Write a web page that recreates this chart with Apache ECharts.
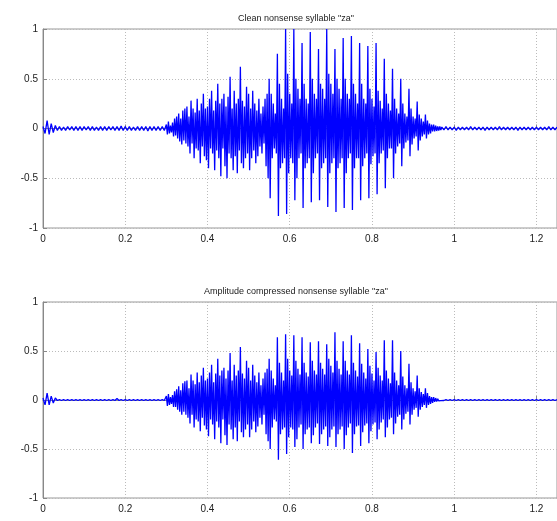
<!DOCTYPE html>
<html>
<head>
<meta charset="utf-8">
<script src="https://cdn.jsdelivr.net/npm/echarts@6/dist/echarts.min.js"></script>
<style>
html,body{margin:0;padding:0;background:#fff;}
#chart{width:557px;height:521px;}
</style>
</head>
<body>
<div id="chart"></div>
<script>
// ---- data ----
var titleTop = 'Clean nonsense syllable "za"';
var titleBottom = 'Amplitude compressed nonsense syllable "za"';
var xTicks = [0, 0.2, 0.4, 0.6, 0.8, 1, 1.2];
var yTicks = [-1, -0.5, 0, 0.5, 1];

// sampling grid of the read-off samples (seconds)
var leadStart = 0, leadStep = 0.005;      // quiet lead-in 0 .. 0.295
var activeStart = 0.30, activeStep = 0.0025; // syllable 0.30 .. 0.9675
var tailStart = 0.97, tailStep = 0.005;   // quiet tail 0.97 .. 1.25

// ---- clean signal ----
var cleanLead = [
  0.02,-0.05,0.08,-0.06,0.05,-0.04,0.03,
  -0.02,0.02,-0.02,0.015,-0.02,0.02,-0.015,0.02,-0.02,0.02,
  -0.02,0.02,-0.02,0.02,-0.015,0.02,-0.02,0.02,-0.02,0.015,
  -0.02,0.02,-0.02,0.02,-0.02,0.02,-0.015,0.02,-0.02,0.02,
  -0.02,0.025,-0.02,0.02,-0.02,0.02,-0.02,0.015,-0.02,0.02,
  -0.02,0.02,-0.02,0.02,-0.025,0.02,-0.02,0.02,-0.02,0.02,
  -0.02,0.02,-0.02
];
var cleanActive = [
  // fricative "z" 0.30 .. 0.5475
  0.04,-0.06,0.07,-0.05,0.03,-0.04,0.06,-0.08,0.1,-0.07,
  0.12,-0.1,0.15,-0.13,0.1,-0.16,0.18,-0.12,0.2,-0.15,
  0.22,-0.18,0.12,-0.25,0.28,-0.15,0.2,-0.3,0.16,-0.2,
  0.3,-0.22,0.18,-0.35,0.25,-0.18,0.35,-0.28,0.2,-0.32,
  0.22,-0.4,0.3,-0.2,0.38,-0.25,0.18,-0.42,0.28,-0.22,
  0.45,-0.3,0.25,-0.48,0.3,-0.2,0.35,-0.38,0.22,-0.5,
  0.32,-0.25,0.52,-0.3,0.2,-0.42,0.38,-0.28,0.25,-0.45,
  0.3,-0.22,0.62,-0.35,0.28,-0.4,0.22,-0.3,0.42,-0.25,
  0.35,-0.42,0.2,-0.3,0.38,-0.22,0.25,-0.35,0.18,-0.28,
  0.3,-0.18,0.15,-0.25,0.22,-0.15,0.3,-0.38,0.35,-0.5,
  // vowel "a", one pitch period per row, 0.55 .. 0.9475
  0.5,-0.7,0.35,-0.3,0.25,-0.2,0.15,-0.25,
  0.75,-0.88,0.45,-0.4,0.3,-0.35,0.2,-0.3,
  1.0,-0.86,0.55,-0.45,0.35,-0.3,0.25,-0.35,
  1.0,-0.72,0.5,-0.5,0.4,-0.3,0.3,-0.25,
  0.86,-0.8,0.45,-0.4,0.3,-0.35,0.25,-0.3,
  0.97,-0.74,0.5,-0.45,0.35,-0.3,0.3,-0.25,
  0.8,-0.72,0.45,-0.4,0.4,-0.35,0.3,-0.3,
  1.0,-0.79,0.55,-0.45,0.45,-0.35,0.35,-0.3,
  0.8,-0.84,0.5,-0.4,0.4,-0.35,0.3,-0.3,
  0.91,-0.8,0.5,-0.45,0.35,-0.3,0.3,-0.25,
  0.93,-0.82,0.45,-0.4,0.35,-0.3,0.25,-0.3,
  0.86,-0.72,0.45,-0.38,0.3,-0.3,0.25,-0.25,
  0.83,-0.7,0.4,-0.36,0.3,-0.28,0.22,-0.25,
  0.86,-0.66,0.38,-0.35,0.28,-0.25,0.2,-0.22,
  0.7,-0.6,0.35,-0.3,0.25,-0.2,0.18,-0.2,
  0.6,-0.5,0.3,-0.25,0.2,-0.18,0.15,-0.15,
  0.5,-0.38,0.25,-0.2,0.15,-0.14,0.12,-0.12,
  0.4,-0.28,0.2,-0.16,0.12,-0.1,0.1,-0.08,
  0.27,-0.22,0.14,-0.12,0.1,-0.08,0.07,-0.06,
  0.14,-0.1,0.08,-0.06,0.05,-0.05,0.04,-0.03,
  // fade 0.95 .. 0.9675
  0.04,-0.03,0.03,-0.025,0.02,-0.02,0.02,-0.015
];
var cleanTail = [
  0.015,-0.015,0.02,-0.015,0.015,-0.015,0.015,-0.02,0.015,-0.015,
  0.015,-0.015,0.015,-0.015,0.02,-0.015,0.015,-0.015,0.015,-0.015,
  0.015,-0.02,0.015,-0.015,0.015,-0.015,0.015,-0.015,0.02,-0.015,
  0.015,-0.015,0.015,-0.015,0.015,-0.015,0.015,-0.02,0.015,-0.015,
  0.015,-0.015,0.015,-0.015,0.015,-0.015,0.015,-0.015,0.015,-0.015,
  0.015,-0.015,0.02,-0.015,0.015,-0.015,0.015
];

// ---- amplitude-compressed signal ----
var compLead = [
  0.02,-0.05,0.07,-0.05,0.04,-0.03,0.02,
  -0.005,0.005,-0.005,0.005,-0.005,0.005,-0.005,0.005,-0.005,0.005,
  -0.005,0.005,-0.005,0.005,-0.005,0.005,-0.005,0.005,-0.005,0.005,
  -0.005,0.005,-0.005,0.005,-0.005,0.005,-0.005,0.005,-0.005,0.015,
  -0.005,0.005,-0.005,0.005,-0.005,0.005,-0.005,0.005,-0.005,0.005,
  -0.005,0.005,-0.005,0.005,-0.005,0.005,-0.005,0.005,-0.005,0.005,
  -0.005,0.005,-0.005
];
var compActive = [
  0.04,-0.06,0.06,-0.05,0.03,-0.04,0.05,-0.07,0.09,-0.07,
  0.11,-0.1,0.14,-0.12,0.1,-0.15,0.17,-0.12,0.19,-0.15,
  0.2,-0.18,0.12,-0.24,0.26,-0.15,0.2,-0.28,0.16,-0.2,
  0.28,-0.22,0.18,-0.32,0.25,-0.18,0.33,-0.26,0.2,-0.3,
  0.22,-0.37,0.28,-0.2,0.36,-0.25,0.18,-0.4,0.27,-0.22,
  0.42,-0.28,0.25,-0.44,0.3,-0.2,0.33,-0.36,0.22,-0.46,
  0.3,-0.25,0.48,-0.3,0.2,-0.4,0.36,-0.28,0.25,-0.42,
  0.3,-0.22,0.54,-0.33,0.27,-0.38,0.22,-0.3,0.4,-0.25,
  0.33,-0.38,0.2,-0.3,0.36,-0.22,0.25,-0.33,0.18,-0.27,
  0.28,-0.18,0.15,-0.25,0.22,-0.15,0.28,-0.35,0.32,-0.42,
  0.42,-0.5,0.3,-0.28,0.22,-0.2,0.15,-0.22,
  0.64,-0.61,0.38,-0.35,0.28,-0.3,0.2,-0.28,
  0.67,-0.55,0.42,-0.38,0.3,-0.28,0.25,-0.3,
  0.66,-0.48,0.4,-0.4,0.32,-0.28,0.26,-0.25,
  0.64,-0.5,0.38,-0.35,0.28,-0.3,0.24,-0.28,
  0.59,-0.44,0.4,-0.36,0.3,-0.28,0.26,-0.24,
  0.6,-0.45,0.38,-0.35,0.32,-0.3,0.26,-0.27,
  0.57,-0.47,0.42,-0.38,0.35,-0.3,0.28,-0.27,
  0.69,-0.48,0.4,-0.35,0.32,-0.3,0.26,-0.27,
  0.6,-0.5,0.4,-0.36,0.3,-0.28,0.26,-0.24,
  0.66,-0.54,0.38,-0.35,0.3,-0.27,0.24,-0.26,
  0.58,-0.47,0.37,-0.33,0.28,-0.26,0.22,-0.24,
  0.52,-0.44,0.35,-0.32,0.27,-0.25,0.2,-0.23,
  0.49,-0.4,0.33,-0.3,0.25,-0.23,0.2,-0.2,
  0.61,-0.38,0.3,-0.28,0.22,-0.2,0.17,-0.18,
  0.61,-0.35,0.28,-0.24,0.2,-0.17,0.15,-0.15,
  0.5,-0.3,0.24,-0.2,0.15,-0.14,0.12,-0.12,
  0.37,-0.25,0.18,-0.15,0.12,-0.1,0.09,-0.08,
  0.25,-0.17,0.12,-0.1,0.08,-0.07,0.06,-0.05,
  0.12,-0.08,0.07,-0.05,0.04,-0.04,0.03,-0.03,
  0.03,-0.02,0.02,-0.015,0.012,-0.01,0.008,-0.006
];
var compTail = [
  0.005,-0.005,0.005,-0.005,0.005,-0.005,0.005,-0.005,0.005,-0.005,
  0.005,-0.005,0.005,-0.005,0.005,-0.005,0.005,-0.005,0.005,-0.005,
  0.005,-0.005,0.005,-0.005,0.005,-0.005,0.005,-0.005,0.005,-0.005,
  0.005,-0.005,0.005,-0.005,0.005,-0.005,0.005,-0.005,0.005,-0.005,
  0.005,-0.005,0.005,-0.005,0.005,-0.005,0.005,-0.005,0.005,-0.005,
  0.005,-0.005,0.005,-0.005,0.005,-0.005,0.005
];

// ---- build ----
function pairs(arr, start, step) {
  return arr.map(function (v, i) { return [+(start + i * step).toFixed(5), v]; });
}
function signal(lead, active, tail) {
  return pairs(lead, leadStart, leadStep)
    .concat(pairs(active, activeStart, activeStep))
    .concat(pairs(tail, tailStart, tailStep));
}

var font = 'Liberation Sans, Arial, sans-serif';
var grids = [
  { left: 43, top: 29, height: 199, right: -5 },
  { left: 43, top: 302, height: 196, right: -5 }
];

function xAx(idx) {
  return {
    type: 'value', gridIndex: idx, min: 0, max: 1.25, interval: 0.2,
    axisLine: { show: true, lineStyle: { color: '#888', width: 1 } },
    axisTick: { show: true, inside: true, length: 4, lineStyle: { color: '#888' } },
    axisLabel: { color: '#222', fontSize: 10, fontFamily: font, margin: 6, showMaxLabel: false,
      formatter: function (v) { return xTicks.indexOf(+v.toFixed(2)) >= 0 ? String(+v.toFixed(2)) : ''; } },
    splitLine: { show: true, lineStyle: { color: '#bbb', type: [1, 2], width: 1 } }
  };
}
function yAx(idx) {
  return {
    type: 'value', gridIndex: idx, min: -1, max: 1, interval: 0.5,
    axisLine: { show: true, onZero: false, lineStyle: { color: '#888', width: 1 } },
    axisTick: { show: true, inside: true, length: 4, lineStyle: { color: '#888' } },
    axisLabel: { color: '#222', fontSize: 10, fontFamily: font, margin: 5,
      formatter: function (v) { return yTicks.indexOf(v) >= 0 ? String(v) : ''; } },
    splitLine: { show: true, lineStyle: { color: '#bbb', type: [1, 2], width: 1 } }
  };
}
function wave(idx, data) {
  return { type: 'line', xAxisIndex: idx, yAxisIndex: idx, data: data,
    showSymbol: false, symbol: 'none', clip: true, sampling: null,
    lineStyle: { color: '#0000ff', width: 1.3 } };
}

var chart = echarts.init(document.getElementById('chart'), null, { renderer: 'canvas' });
chart.setOption({
  animation: false,
  backgroundColor: '#fff',
  title: [
    { text: titleTop, left: 291, top: 9, textAlign: 'center',
      textStyle: { fontSize: 9, fontWeight: 'normal', color: '#222', fontFamily: font } },
    { text: titleBottom, left: 291, top: 282, textAlign: 'center',
      textStyle: { fontSize: 9, fontWeight: 'normal', color: '#222', fontFamily: font } }
  ],
  grid: grids.map(function (g) {
    return Object.assign({ show: true, borderColor: '#999', borderWidth: 1, backgroundColor: '#fff' }, g);
  }),
  xAxis: [xAx(0), xAx(1)],
  yAxis: [yAx(0), yAx(1)],
  series: [
    wave(0, signal(cleanLead, cleanActive, cleanTail)),
    wave(1, signal(compLead, compActive, compTail))
  ]
});
</script>
</body>
</html>
